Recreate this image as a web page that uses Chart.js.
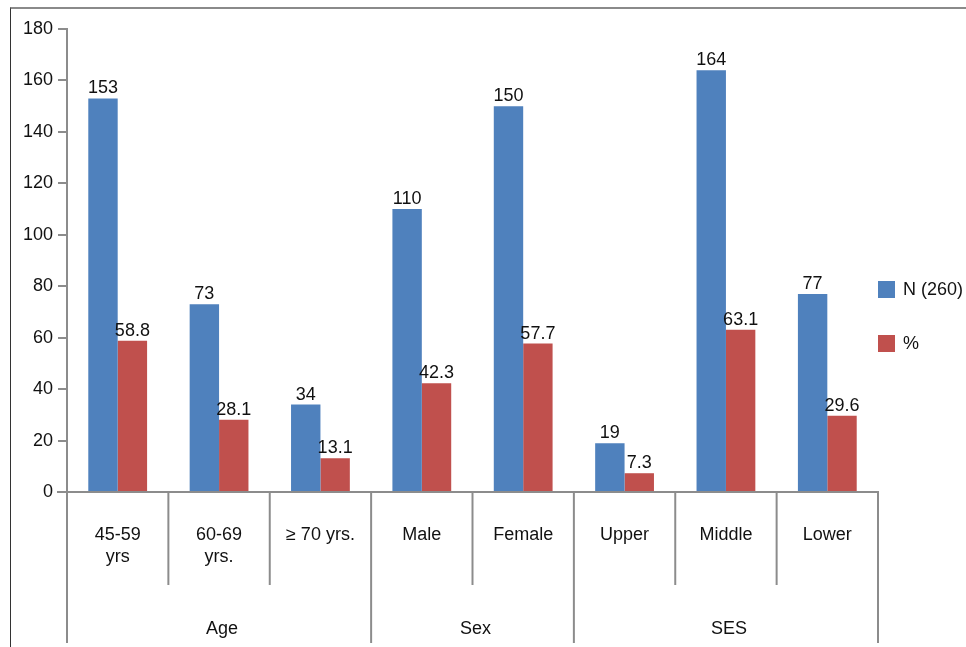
<!DOCTYPE html>
<html><head><meta charset="utf-8">
<script src="https://cdn.jsdelivr.net/npm/chart.js@4/dist/chart.umd.min.js"></script>
<style>
html,body{margin:0;padding:0;background:#fff;}
#wrap{position:relative;width:966px;height:647px;}
#frame{position:absolute;left:10px;top:7px;width:956px;height:640px;border-top:2px solid #8a8a8a;border-left:1.5px solid #333;box-sizing:border-box;pointer-events:none;}
canvas{position:absolute;left:0;top:0;}
</style></head>
<body>
<div id="wrap"><canvas id="c" width="966" height="647"></canvas><div id="frame"></div></div>
<script>
const categories = [["45-59","yrs"],["60-69","yrs."],["\u2265 70 yrs."],["Male"],["Female"],["Upper"],["Middle"],["Lower"]];
const groups = ["Age","Sex","SES"];
const groupSizes = [3,2,3];
const seriesN = [153,73,34,110,150,19,164,77];
const seriesPct = [58.8,28.1,13.1,42.3,57.7,7.3,63.1,29.6];
const seriesNames = ["N (260)","%"];
const yTicks = [0,20,40,60,80,100,120,140,160,180];

const FONT = '18px "Liberation Sans", Arial, sans-serif';
const AXIS = '#8c8c8c';
const colors = ['#4F81BD','#C0504D'];

const custom = {
  id:'custom',
  afterDatasetsDraw(chart){
    const ctx = chart.ctx;
    const x = chart.scales.x, y = chart.scales.y;
    const area = chart.chartArea;
    ctx.save();
    // data labels
    ctx.font = FONT; ctx.fillStyle = '#111'; ctx.textAlign='center'; ctx.textBaseline='bottom';
    chart.data.datasets.forEach((ds,di)=>{
      const meta = chart.getDatasetMeta(di);
      meta.data.forEach((bar,i)=>{
        ctx.fillText(String(ds.data[i]), bar.x, bar.y - 1);
      });
    });
    // axis line
    const y0 = y.getPixelForValue(0);
    ctx.strokeStyle = AXIS; ctx.lineWidth = 2;
    ctx.beginPath(); ctx.moveTo(area.left - 10, y0); ctx.lineTo(area.right + 1, y0); ctx.stroke();
    // separators
    const n = categories.length;
    const step = (x.getPixelForValue(1) - x.getPixelForValue(0));
    const bound = i => x.getPixelForValue(0) - step/2 + i*step;
    const groupBounds = [0];
    groupSizes.forEach(s=>groupBounds.push(groupBounds[groupBounds.length-1]+s));
    for(let i=0;i<=n;i++){
      const bx = bound(i);
      const isGroup = groupBounds.includes(i);
      ctx.beginPath(); ctx.moveTo(bx, y0); ctx.lineTo(bx, isGroup ? 643 : 585); ctx.stroke();
    }
    // category labels
    ctx.fillStyle = '#111'; ctx.textBaseline='middle';
    categories.forEach((lab,i)=>{
      const cx = x.getPixelForValue(i);
      lab.forEach((line,li)=> ctx.fillText(line, cx, 535 + li*22));
    });
    // group labels
    groups.forEach((g,gi)=>{
      const cx = (bound(groupBounds[gi]) + bound(groupBounds[gi+1]))/2;
      ctx.fillText(g, cx + 3, 629);
    });
    // legend
    ctx.textAlign='left';
    seriesNames.forEach((nm,i)=>{
      const ly = 289 + i*54;
      ctx.fillStyle = colors[i];
      ctx.fillRect(area.right, ly - 8, 17, 17);
      ctx.fillStyle = '#111';
      ctx.fillText(nm, area.right + 25, ly + 1);
    });
    ctx.restore();
  }
};

new Chart(document.getElementById('c'), {
  type:'bar',
  data:{
    labels: categories.map(c=>c.join(' ')),
    datasets:[
      {label:seriesNames[0], data:seriesN, backgroundColor:colors[0]},
      {label:seriesNames[1], data:seriesPct, backgroundColor:colors[1]}
    ]
  },
  options:{
    responsive:false, animation:false,
    devicePixelRatio:1,
    layout:{padding:{top:29,right:88,left:0,bottom:0}},
    categoryPercentage:0.58, barPercentage:1.0,
    plugins:{legend:{display:false}, tooltip:{enabled:false}},
    scales:{
      x:{
        grid:{display:false}, border:{display:false},
        ticks:{display:false},
        afterFit(s){ s.height = 155; }
      },
      y:{
        min:0, max:180,
        afterBuildTicks(s){ s.ticks = yTicks.map(v=>({value:v})); },
        afterFit(s){ s.width = 67; },
        grid:{drawOnChartArea:false, color:AXIS, lineWidth:2, tickLength:9},
        border:{display:true, color:AXIS, width:2},
        ticks:{color:'#111', font:{family:'"Liberation Sans", Arial, sans-serif', size:18}, padding:5}
      }
    }
  },
  plugins:[custom]
});
</script>
</body></html>
